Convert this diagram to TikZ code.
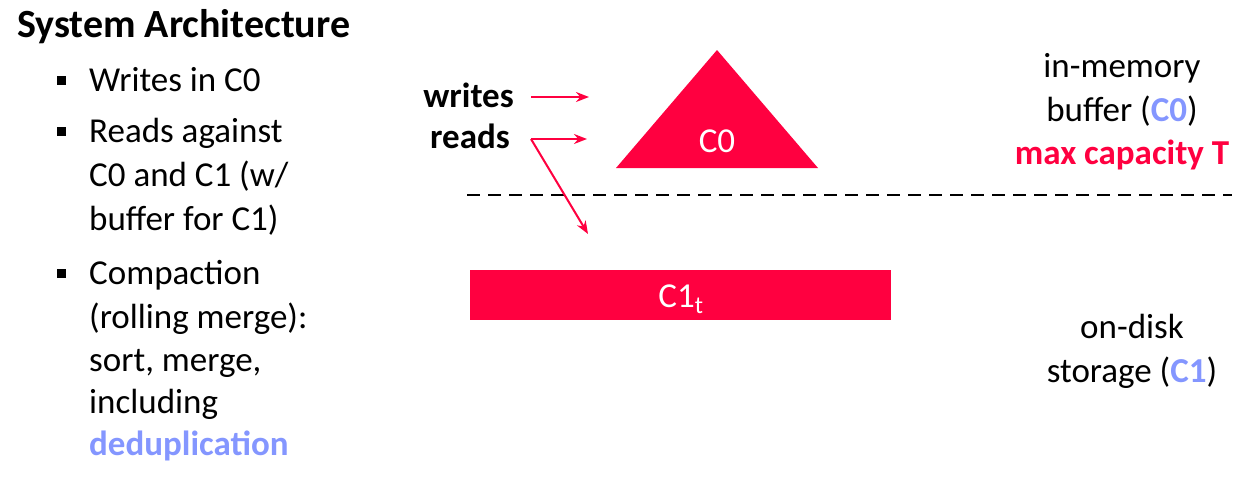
\documentclass[tikz,border=0pt]{standalone}
\usepackage{fontspec}
\setmainfont{Carlito}
\usetikzlibrary{arrows.meta}
\definecolor{hot}{RGB}{255,0,64}
\definecolor{lav}{RGB}{132,150,255}
\tikzset{
  txt/.style={inner sep=0pt, font=\fontsize{35}{44}\selectfont},
  btxt/.style={inner sep=0pt, font=\fontsize{35}{44}\selectfont\bfseries},
  sq/.style={fill=black, draw=none, minimum size=9pt, inner sep=0pt},
  arr/.style={draw=hot, line width=2pt, -{Stealth[length=13pt,width=10pt]}},
}
\begin{document}
\begin{tikzpicture}[x=1pt,y=-1pt]
\useasboundingbox (0,0) rectangle (1257,477);
% left column
\node[inner sep=0pt, font=\fontsize{40}{48}\selectfont\bfseries, anchor=base west] (title) at (17,37) {System Architecture};
\node[sq] (s1) at (61,80) {};
\node[txt, anchor=base west] (l1) at (89,91) {Writes in C0};
\node[sq] (s2) at (61,131) {};
\node[txt, anchor=base west] (l2) at (89,142) {Reads against};
\node[txt, anchor=base west] (l3) at (89,186) {C0 and C1 (w/};
\node[txt, anchor=base west] (l4) at (89,230) {buffer for C1)};
\node[sq] (s3) at (61,273) {};
\node[txt, anchor=base west] (l5) at (89,284) {Compaction};
\node[txt, anchor=base west] (l6) at (89,328) {(rolling merge):};
\node[txt, anchor=base west] (l7) at (89,371) {sort, merge,};
\node[txt, anchor=base west] (l8) at (89,413) {including};
\node[btxt, anchor=base west, text=lav] (l9) at (89,455) {deduplication};
% triangle C0
\coordinate (tA) at (717,50);
\coordinate (tL) at (616,168);
\coordinate (tR) at (818,168);
\fill[hot] (tA) -- (tL) -- (tR) -- cycle;
\node[txt, anchor=base, text=white] (c0) at (717,152) {C0};
% C1 bar
\node[fill=hot, draw=none, minimum width=421pt, minimum height=50pt, inner sep=0pt, anchor=north west] (c1) at (470,270) {};
\node[txt, anchor=base, text=white] (c1t) at (681,307) {C1\textsubscript{t}};
% dashed separator
\coordinate (dl) at (467,195);
\coordinate (dr) at (1232,195);
\draw[line width=2pt, dash pattern=on 13pt off 8pt] (dl) -- (dr);
% writes / reads
\node[btxt, anchor=base east] (wr) at (514,107) {writes};
\node[btxt, anchor=base east] (rd) at (510,148) {reads};
\coordinate (ws) at (531,97);
\coordinate (we) at (589,97);
\coordinate (rs) at (531,139);
\coordinate (re) at (587,139);
\coordinate (rd2) at (588,234);
\draw[arr] (ws) -- (we);
\draw[arr] (rs) -- (re);
\draw[arr] (rs) -- (rd2);
% right labels
\node[txt, anchor=base] (im1) at (1122,77) {in-memory};
\node[txt, anchor=base] (im2) at (1122,121) {buffer (\textcolor{lav}{\bfseries C0})};
\node[btxt, anchor=base, text=hot] (im3) at (1122,164) {max capacity T};
\node[txt, anchor=base] (od1) at (1132,338) {on-disk};
\node[txt, anchor=base] (od2) at (1132,382) {storage (\textcolor{lav}{\bfseries C1})};
\end{tikzpicture}
\end{document}
